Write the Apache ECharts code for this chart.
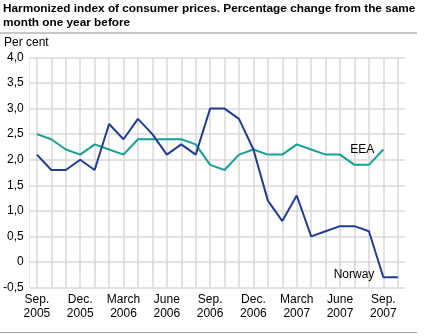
<!DOCTYPE html>
<html>
<head>
<meta charset="utf-8">
<script src="https://cdn.jsdelivr.net/npm/echarts@6/dist/echarts.min.js"></script>
<style>
  html, body { margin: 0; padding: 0; background: #fff; }
  #chart { width: 427px; height: 336px; }
</style>
</head>
<body>
<div id="chart"></div>
<script>
// Monthly categories, Sep. 2005 – Oct. 2007
const months = [
  'Sep.\n2005', 'Oct.\n2005', 'Nov.\n2005', 'Dec.\n2005', 'Jan.\n2006', 'Feb.\n2006',
  'March\n2006', 'April\n2006', 'May\n2006', 'June\n2006', 'July\n2006', 'Aug.\n2006',
  'Sep.\n2006', 'Oct.\n2006', 'Nov.\n2006', 'Dec.\n2006', 'Jan.\n2007', 'Feb.\n2007',
  'March\n2007', 'April\n2007', 'May\n2007', 'June\n2007', 'July\n2007', 'Aug.\n2007',
  'Sep.\n2007', 'Oct.\n2007'
];

// HICP, percentage change from the same month one year before
const norway = [2.1, 1.8, 1.8, 2.0, 1.8, 2.7, 2.4, 2.8, 2.5, 2.1, 2.3, 2.1, 3.0,
                3.0, 2.8, 2.2, 1.2, 0.8, 1.3, 0.5, 0.6, 0.7, 0.7, 0.6, -0.3, -0.3];
const eea = [2.5, 2.4, 2.2, 2.1, 2.3, 2.2, 2.1, 2.4, 2.4, 2.4, 2.4, 2.3, 1.9,
             1.8, 2.1, 2.2, 2.1, 2.1, 2.3, 2.2, 2.1, 2.1, 1.9, 1.9, 2.2];

const FONT = 'Liberation Sans, Arial, sans-serif';
const GRID_COLOR = '#d9d9d9';

function fmtPct(v) {
  return v === 0 ? '0' : v.toFixed(1).replace('.', ',');
}

// Series name written to the left of a chosen point of the line
function nameMark(values, index, name, offset) {
  return {
    silent: true,
    symbol: 'circle',
    symbolSize: 0,
    data: [{ coord: [index, values[index]] }],
    label: { show: true, position: 'left', distance: 9, offset: offset,
             formatter: name, color: '#000', fontFamily: FONT, fontSize: 12 }
  };
}

const chart = echarts.init(document.getElementById('chart'), null, { renderer: 'canvas' });

chart.setOption({
  animation: false,
  backgroundColor: '#fff',
  title: {
    text: 'Harmonized index of consumer prices. Percentage change from the same\nmonth one year before',
    left: 3, top: 2, padding: 0,
    textStyle: { fontFamily: FONT, fontSize: 11.8, fontWeight: 'bold', color: '#000', lineHeight: 14 }
  },
  graphic: [
    { type: 'rect', shape: { x: 0, y: 32, width: 417, height: 2 }, style: { fill: '#c8c8c8' } },
    { type: 'text', left: 4, top: 37,
      style: { text: 'Per cent', fontFamily: FONT, fontSize: 12, fill: '#000' } },
    { type: 'rect', shape: { x: 0, y: 332, width: 417, height: 1 }, style: { fill: '#a0a0a0' } }
  ],
  grid: { left: 26, right: 22, top: 57.5, bottom: 48.5 },
  xAxis: {
    type: 'category',
    data: months,
    boundaryGap: true,
    axisLine: { show: false },
    axisTick: { show: true, alignWithLabel: true, interval: 0, length: 4,
                lineStyle: { color: GRID_COLOR, width: 1.5 } },
    splitLine: { show: true, alignWithLabel: true, interval: 0,
                 lineStyle: { color: GRID_COLOR, width: 1.5 } },
    axisLabel: { interval: 2, margin: 5, fontFamily: FONT, fontSize: 12, color: '#000', lineHeight: 14 }
  },
  yAxis: {
    type: 'value',
    min: -0.5, max: 4, interval: 0.5,
    axisLine: { show: true, lineStyle: { color: '#e6e6e6', width: 1 } },
    axisTick: { show: false },
    splitLine: { show: true, lineStyle: { color: GRID_COLOR, width: 1.5 } },
    axisLabel: { margin: 6, fontFamily: FONT, fontSize: 12, color: '#000', formatter: fmtPct }
  },
  series: [
    {
      name: 'EEA', type: 'line', data: eea,
      symbol: 'none', lineStyle: { color: '#16a096', width: 2 }, itemStyle: { color: '#16a096' },
      markPoint: nameMark(eea, 24, 'EEA', [0, 0]),
      z: 2
    },
    {
      name: 'Norway', type: 'line', data: norway,
      symbol: 'none', lineStyle: { color: '#233d96', width: 2 }, itemStyle: { color: '#233d96' },
      markPoint: nameMark(norway, 24, 'Norway', [0, -3]),
      z: 3
    }
  ]
});
</script>
</body>
</html>
